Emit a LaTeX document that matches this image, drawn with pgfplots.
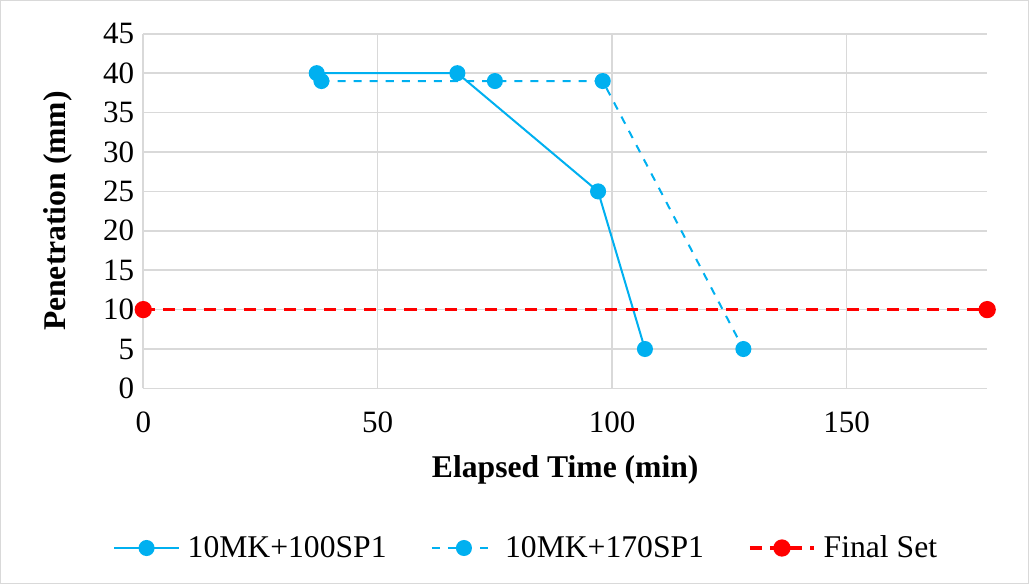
\documentclass[border=0pt]{standalone}
\usepackage{pgfplots}
\pgfplotsset{compat=1.18}
\usepackage{fontspec}
\setmainfont{Liberation Serif}
\definecolor{sky}{HTML}{00B0F0}
\definecolor{gridc}{HTML}{D9D9D9}
\begin{document}
\begin{tikzpicture}
\begin{axis}[
  name=ax,
  scale only axis,
  width=420bp, height=176.5bp,
  xmin=0, xmax=180, ymin=0, ymax=45,
  xtick={0,50,100,150}, ytick={0,5,...,45},
  axis line style={draw=none},
  major tick length=0pt,
  grid=major,
  grid style={gridc, line width=0.8pt},
  tick label style={font=\fontsize{15.5}{18}\selectfont},
  xticklabel style={yshift=-8bp},
  yticklabel style={xshift=-1bp},
  /pgf/number format/assume math mode=true,
  xlabel={\textbf{Elapsed Time (min)}},
  ylabel={\textbf{Penetration (mm)}},
  label style={font=\fontsize{15.8}{18}\selectfont},
  xlabel style={at={(0.5,-0.229)}, anchor=center},
  ylabel style={at={(-0.101,0.5)}, anchor=center},
  legend columns=3,
  legend style={draw=none, font=\fontsize{15.8}{18}\selectfont, at={(0.455,-0.45)}, anchor=center, /tikz/every even column/.append style={column sep=20bp}, /tikz/every odd column/.append style={column sep=2bp}},
  legend image code/.code={\draw[#1] (0bp,0bp) -- (32bp,0bp); \draw[#1, solid] plot coordinates {(16bp,0bp)};},
  clip=false,
]
\addplot[sky, line width=1bp, mark=*, mark size=3.5pt, mark options={solid}] coordinates {(37,40) (67,40) (97,25) (107,5)};
\addlegendentry{10MK+100SP1}
\addplot[sky, line width=1bp, dashed, dash pattern=on 4bp off 4bp, mark=*, mark size=3.5pt, mark options={solid}] coordinates {(38,39) (75,39) (98,39) (128,5)};
\addlegendentry{10MK+170SP1}
\addplot[red, line width=1.6bp, dash pattern=on 6bp off 4bp, mark=*, mark size=3.5pt, mark options={solid}] coordinates {(0,10) (180,10)};
\addlegendentry{Final Set}
\end{axis}
\draw[gridc, line width=0.6pt] ([shift={(-71bp,-97bp)}]ax.south west) rectangle ([shift={(440.5bp,193bp)}]ax.south west);
\end{tikzpicture}
\end{document}
